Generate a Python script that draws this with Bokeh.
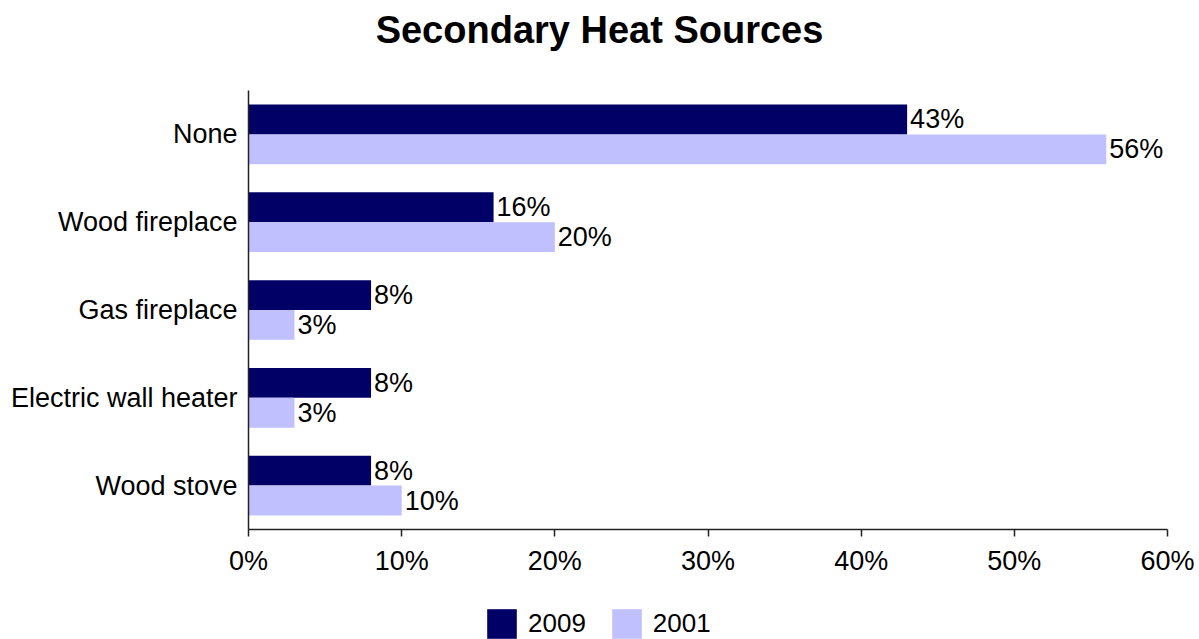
from bokeh.plotting import figure
from bokeh.models import (ColumnDataSource, Range1d, NumeralTickFormatter,
                          FixedTicker, LabelSet, Label, Legend, LegendItem)
from bokeh.core.properties import value
from bokeh.transform import dodge
from bokeh.embed import file_html
from bokeh.resources import INLINE

categories = ["None", "Wood fireplace", "Gas fireplace", "Electric wall heater", "Wood stove"]
values_2009 = [43, 16, 8, 8, 8]
values_2001 = [56, 20, 3, 3, 10]
series_names = ["2009", "2001"]
tick_values = [0, 0.1, 0.2, 0.3, 0.4, 0.5, 0.6]
title_text = "Secondary Heat Sources"

DARK = "#000066"
LIGHT = "#C0C0FF"
FONT = "Liberation Sans"

n = len(categories)
ypos = [n - i - 0.5 for i in range(n)]   # category centres, first category on top

src = ColumnDataSource(dict(
    y=ypos,
    v09=[v / 100 for v in values_2009],
    v01=[v / 100 for v in values_2001],
    l09=[f"{v}%" for v in values_2009],
    l01=[f"{v}%" for v in values_2001],
))

# the frame covers the whole figure; axes are pinned inside it with fixed_location
p = figure(width=1199, height=639, output_backend="svg", toolbar_location=None,
           x_range=Range1d(-0.16192, 0.62089), y_range=Range1d(-1.253, n + 1.025),
           min_border_left=0, min_border_right=0, min_border_top=0, min_border_bottom=0)
p.title.visible = False

r1 = p.hbar(y=dodge("y", 0.17), right="v09", left=0, height=0.34,
            source=src, fill_color=DARK, line_color=None)
r2 = p.hbar(y=dodge("y", -0.17), right="v01", left=0, height=0.34,
            source=src, fill_color=LIGHT, line_color=None)

lab_style = dict(text_font=value(FONT), text_font_size="27px", text_color="#000000",
                 text_baseline="middle", x_offset=3)
p.add_layout(LabelSet(x="v09", y=dodge("y", 0.17), text="l09", source=src, **lab_style))
p.add_layout(LabelSet(x="v01", y=dodge("y", -0.17), text="l01", source=src, **lab_style))

p.add_layout(Label(x=599, y=610, x_units="screen", y_units="screen", text=title_text,
                   text_align="center", text_baseline="alphabetic", text_font=FONT,
                   text_font_size="38px", text_font_style="bold", text_color="#000000"))

p.xgrid.visible = False
p.ygrid.visible = False
p.outline_line_color = None

xa = p.xaxis[0]
xa.fixed_location = 0
xa.bounds = (0, 0.6)
xa.ticker = FixedTicker(ticks=tick_values)
xa.formatter = NumeralTickFormatter(format="0%")
xa.major_tick_out = 7
xa.major_tick_in = 0
xa.minor_tick_line_color = None
xa.axis_line_color = "#222222"
xa.axis_line_width = 1.5
xa.major_tick_line_color = "#222222"
xa.major_tick_line_width = 1.5
xa.major_label_text_font = FONT
xa.major_label_text_font_size = "27px"
xa.major_label_text_color = "#000000"
xa.major_label_standoff = 10

ya = p.yaxis[0]
ya.fixed_location = 0
ya.bounds = (0, n)
ya.ticker = FixedTicker(ticks=ypos)
ya.major_label_overrides = {y: c for y, c in zip(ypos, categories)}
ya.major_tick_line_color = None
ya.major_tick_out = 0
ya.major_tick_in = 0
ya.minor_tick_line_color = None
ya.minor_tick_out = 0
ya.minor_tick_in = 0
ya.axis_line_color = "#222222"
ya.axis_line_width = 1.5
ya.major_label_text_font = FONT
ya.major_label_text_font_size = "27px"
ya.major_label_text_color = "#000000"
ya.major_label_standoff = 11

legend = Legend(items=[LegendItem(label=series_names[0], renderers=[r1]),
                       LegendItem(label=series_names[1], renderers=[r2])],
                orientation="horizontal", location=(483, -3),
                glyph_width=37, glyph_height=37, label_standoff=8, spacing=22,
                label_text_font=FONT, label_text_font_size="26px",
                label_text_color="#000000", border_line_color=None,
                background_fill_alpha=0, padding=0, margin=0)
p.add_layout(legend, "center")

open("out.html", "w").write(file_html(p, INLINE))
